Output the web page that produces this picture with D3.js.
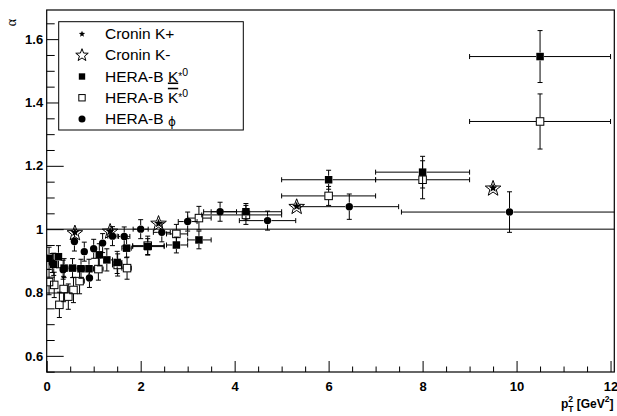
<!DOCTYPE html>
<html><head><meta charset="utf-8">
<script src="https://cdn.jsdelivr.net/npm/d3@7"></script>
<style>
html,body{margin:0;padding:0;background:#fff;}
svg{display:block;font-family:"Liberation Sans",Arial,Helvetica,sans-serif;}
</style></head><body>
<svg id="chart" width="617" height="416"></svg>
<script>
// ---- Cronin K+ / K- (star markers, no error bars) ----
const croninKplusX = [0.60, 1.35, 2.38, 5.32, 9.50];
const croninKplusA = [0.990, 0.993, 1.018, 1.072, 1.130];
const croninKminusX = [0.60, 1.35, 2.38, 5.32, 9.50];
const croninKminusA = [0.987, 0.992, 1.017, 1.070, 1.128];

// ---- HERA-B K*0 : bin centre, bin edges, alpha, alpha error ----
const kstarX  = [0.05, 0.15, 0.25, 0.37, 0.55, 0.73, 0.90, 1.12, 1.28, 1.50, 1.70, 2.15, 2.76, 3.24, 4.24, 6.00, 8.00, 10.50];
const kstarLo = [0.00, 0.10, 0.20, 0.30, 0.45, 0.65, 0.80, 1.05, 1.20, 1.40, 1.60, 1.83, 2.55, 3.00, 3.50, 5.00, 7.00, 9.00];
const kstarHi = [0.10, 0.20, 0.30, 0.45, 0.65, 0.80, 1.00, 1.20, 1.40, 1.60, 1.80, 2.50, 3.00, 3.50, 5.00, 7.00, 9.00, 12.00];
const kstarA  = [0.908, 0.889, 0.913, 0.877, 0.877, 0.875, 0.875, 0.919, 0.903, 0.895, 0.940, 0.945, 0.950, 0.966, 1.055, 1.156, 1.180, 1.545];
const kstarE  = [0.035, 0.035, 0.035, 0.030, 0.030, 0.030, 0.030, 0.035, 0.035, 0.035, 0.030, 0.025, 0.025, 0.028, 0.026, 0.030, 0.050, 0.082];

// ---- HERA-B anti-K*0 ----
const akstarX  = [0.05, 0.16, 0.27, 0.36, 0.46, 0.57, 0.70, 1.10, 1.51, 1.71, 2.15, 2.76, 3.24, 4.24, 6.00, 8.00, 10.50];
const akstarLo = [0.00, 0.10, 0.20, 0.30, 0.40, 0.50, 0.65, 1.00, 1.40, 1.60, 1.83, 2.55, 3.00, 3.30, 5.00, 7.00, 9.00];
const akstarHi = [0.10, 0.20, 0.30, 0.40, 0.50, 0.65, 0.80, 1.20, 1.60, 1.80, 2.50, 3.00, 3.50, 5.00, 7.00, 9.00, 12.00];
const akstarA  = [0.833, 0.824, 0.761, 0.811, 0.787, 0.808, 0.836, 0.874, 0.887, 0.877, 0.948, 0.985, 1.035, 1.045, 1.105, 1.156, 1.340];
const akstarE  = [0.040, 0.040, 0.040, 0.040, 0.040, 0.040, 0.040, 0.035, 0.035, 0.035, 0.030, 0.030, 0.037, 0.030, 0.030, 0.060, 0.087];

// ---- HERA-B phi ----
const phiX  = [0.12, 0.35, 0.59, 0.80, 0.91, 1.00, 1.19, 1.40, 1.65, 2.00, 2.45, 3.00, 3.69, 4.70, 6.44, 9.85];
const phiEx = [0.05, 0.05, 0.05, 0.05, 0.05, 0.05, 0.07, 0.10, 0.12, 0.16, 0.18, 0.20, 0.35, 0.60, 1.05, 2.30];
const phiA  = [0.893, 0.872, 0.961, 0.929, 0.846, 0.938, 0.956, 0.978, 0.977, 1.000, 0.990, 1.024, 1.055, 1.027, 1.071, 1.054];
const phiE  = [0.030, 0.030, 0.030, 0.030, 0.030, 0.030, 0.030, 0.030, 0.030, 0.030, 0.030, 0.030, 0.030, 0.030, 0.040, 0.064];

// ---- axis ticks ----
const xMajor = [0, 2, 4, 6, 8, 10, 12];
const yMajor = [0.6, 0.8, 1.0, 1.2, 1.4, 1.6];
const xDomain = [0, 12.08];
const yDomain = [0.549, 1.692];

const legendLabels = ["Cronin K+", "Cronin K-", "HERA-B ", "HERA-B ", "HERA-B "];

const svg = d3.select("#chart");
const plot = {left: 46.7, right: 614.3, top: 10, bottom: 372};
const x = d3.scaleLinear().domain(xDomain).range([plot.left, plot.right]);
const y = d3.scaleLinear().domain(yDomain).range([plot.bottom, plot.top]);

svg.append("rect").attr("width", 617).attr("height", 416).attr("fill", "#fff");

svg.append("clipPath").attr("id", "plotclip").append("rect")
  .attr("x", plot.left).attr("y", plot.top)
  .attr("width", plot.right - plot.left).attr("height", plot.bottom - plot.top);

// minor tick positions
const xMinor = d3.range(0.5, 12.01, 0.5).filter(v => !xMajor.some(m => Math.abs(m - v) < 1e-6));
const yMinor = d3.range(0.55, 1.69, 0.05).filter(v => !yMajor.some(m => Math.abs(m - v) < 1e-6));

const fontAxis = "'Liberation Sans', Arial, sans-serif";

// ---- y axis ----
const gy = svg.append("g").attr("transform", `translate(${plot.left},0)`)
  .call(d3.axisLeft(y).tickValues(yMajor).tickSizeInner(-17).tickSizeOuter(0).tickPadding(3.5)
    .tickFormat(d => Math.abs(d - 1) < 1e-9 ? "1" : d3.format(".1f")(d)));
gy.attr("font-size", 13).attr("font-family", fontAxis).attr("font-weight", "bold");
gy.select(".domain").remove();
gy.selectAll("line").attr("stroke", "#000");
gy.selectAll("text").attr("fill", "#000");

const gym = svg.append("g").attr("transform", `translate(${plot.left},0)`)
  .call(d3.axisLeft(y).tickValues(yMinor).tickSizeInner(-8).tickSizeOuter(0).tickFormat(""));
gym.select(".domain").remove();
gym.selectAll("line").attr("stroke", "#000");

// ---- x axis ----
const gx = svg.append("g").attr("transform", `translate(0,${plot.bottom})`)
  .call(d3.axisBottom(x).tickValues(xMajor).tickSizeInner(-11).tickSizeOuter(0).tickPadding(9.5)
    .tickFormat(d3.format("d")));
gx.attr("font-size", 13).attr("font-family", fontAxis).attr("font-weight", "bold");
gx.select(".domain").remove();
gx.selectAll("line").attr("stroke", "#000");
gx.selectAll("text").attr("fill", "#000");

const gxm = svg.append("g").attr("transform", `translate(0,${plot.bottom})`)
  .call(d3.axisBottom(x).tickValues(xMinor).tickSizeInner(-5.5).tickSizeOuter(0).tickFormat(""));
gxm.select(".domain").remove();
gxm.selectAll("line").attr("stroke", "#000");

// ---- reference line alpha = 1 ----
svg.append("line")
  .attr("x1", x(xDomain[0])).attr("x2", x(xDomain[1]))
  .attr("y1", y(1)).attr("y2", y(1))
  .attr("stroke", "#000").attr("stroke-width", 1);

// ---- marker helpers ----
function starPath(R, r) {
  const pts = [];
  for (let k = 0; k < 10; k++) {
    const ang = -Math.PI / 2 + k * Math.PI / 5;
    const rad = k % 2 === 0 ? R : r;
    pts.push([rad * Math.cos(ang), rad * Math.sin(ang)]);
  }
  return "M" + pts.map(p => p[0].toFixed(2) + "," + p[1].toFixed(2)).join("L") + "Z";
}

function drawMarker(g, type, cx, cy, scale) {
  const s = scale || 1;
  if (type === "fsquare") {
    const a = 7.5 * s;
    g.append("rect").attr("x", cx - a / 2).attr("y", cy - a / 2).attr("width", a).attr("height", a).attr("fill", "#000");
  } else if (type === "osquare") {
    const a = 7.5 * s;
    g.append("rect").attr("x", cx - a / 2).attr("y", cy - a / 2).attr("width", a).attr("height", a)
      .attr("fill", "none").attr("stroke", "#000").attr("stroke-width", 1);
  } else if (type === "circle") {
    g.append("circle").attr("cx", cx).attr("cy", cy).attr("r", 3.7 * s).attr("fill", "#000");
  } else if (type === "fstar") {
    g.append("path").attr("d", starPath(4.6 * s, 2.0 * s)).attr("transform", `translate(${cx},${cy})`).attr("fill", "#000");
  } else if (type === "ostar") {
    g.append("path").attr("d", starPath(8.2 * s, 3.4 * s)).attr("transform", `translate(${cx},${cy})`)
      .attr("fill", "none").attr("stroke", "#000").attr("stroke-width", 1);
  }
}

const dataLayer = svg.append("g").attr("clip-path", "url(#plotclip)");

function drawSeries(xs, lo, hi, as, es, type) {
  const g = dataLayer.append("g");
  const half = 4, cap = 2.5;
  const eg = g.append("g").attr("stroke", "#000").attr("stroke-width", 1);
  xs.forEach((xv, i) => {
    const cx = x(xv), cy = y(as[i]);
    if (es) {
      const yt = y(as[i] + es[i]), yb = y(as[i] - es[i]);
      if (cy - yt > half) {
        eg.append("line").attr("x1", cx).attr("x2", cx).attr("y1", yt).attr("y2", cy - half);
        eg.append("line").attr("x1", cx - cap).attr("x2", cx + cap).attr("y1", yt).attr("y2", yt);
      }
      if (yb - cy > half) {
        eg.append("line").attr("x1", cx).attr("x2", cx).attr("y1", cy + half).attr("y2", yb);
        eg.append("line").attr("x1", cx - cap).attr("x2", cx + cap).attr("y1", yb).attr("y2", yb);
      }
    }
    if (lo && hi) {
      const xl = x(lo[i]), xr = x(hi[i]);
      if (cx - xl > half) {
        eg.append("line").attr("x1", xl).attr("x2", cx - half).attr("y1", cy).attr("y2", cy);
        eg.append("line").attr("x1", xl).attr("x2", xl).attr("y1", cy - cap).attr("y2", cy + cap);
      }
      if (xr - cx > half) {
        eg.append("line").attr("x1", cx + half).attr("x2", xr).attr("y1", cy).attr("y2", cy);
        eg.append("line").attr("x1", xr).attr("x2", xr).attr("y1", cy - cap).attr("y2", cy + cap);
      }
    }
  });
  xs.forEach((xv, i) => drawMarker(g, type, x(xv), y(as[i])));
}

drawSeries(akstarX, akstarLo, akstarHi, akstarA, akstarE, "osquare");
drawSeries(kstarX, kstarLo, kstarHi, kstarA, kstarE, "fsquare");
drawSeries(phiX, phiX.map((v, i) => v - phiEx[i]), phiX.map((v, i) => v + phiEx[i]), phiA, phiE, "circle");
drawSeries(croninKminusX, null, null, croninKminusA, null, "ostar");
drawSeries(croninKplusX, null, null, croninKplusA, null, "fstar");

// ---- frame ----
svg.append("rect")
  .attr("x", plot.left).attr("y", plot.top)
  .attr("width", plot.right - plot.left).attr("height", plot.bottom - plot.top)
  .attr("fill", "none").attr("stroke", "#000").attr("stroke-width", 1.2);

// ---- axis titles ----
svg.append("text")
  .attr("transform", "translate(16,19) rotate(-90)")
  .attr("text-anchor", "end")
  .attr("font-family", "'Liberation Serif', 'DejaVu Serif', serif")
  .attr("font-size", 14).attr("fill", "#000")
  .text("α");

const xt = svg.append("text")
  .attr("x", 613.5).attr("y", 408.3)
  .attr("text-anchor", "end").attr("fill", "#000")
  .attr("font-family", fontAxis).attr("font-weight", "bold").attr("font-size", 12);
xt.append("tspan").text("p");
xt.append("tspan").attr("font-size", 8.5).attr("dy", -6).text("2");
xt.append("tspan").attr("font-size", 8.5).attr("dx", -4.8).attr("dy", 10).text("T");
xt.append("tspan").attr("dy", -4).text(" [GeV");
xt.append("tspan").attr("font-size", 8.5).attr("dy", -6).text("2");
xt.append("tspan").attr("dy", 6).text("]");

// ---- legend ----
const leg = svg.append("g");
leg.append("rect").attr("x", 58.7).attr("y", 21.7).attr("width", 184.6).attr("height", 108.3)
  .attr("fill", "#fff").attr("stroke", "#000").attr("stroke-width", 1);
const legendTypes = ["fstar", "ostar", "fsquare", "osquare", "circle"];
const legendScale = [0.72, 0.8, 0.85, 0.85, 0.95];
const rowY = d3.scaleLinear().domain([0, 4]).range([34, 119]);
legendTypes.forEach((t, i) => drawMarker(leg, t, 82, rowY(i), legendScale[i]));

function legendText(i) {
  return leg.append("text").attr("x", 105).attr("y", rowY(i) + 5)
    .attr("font-family", fontAxis).attr("font-size", 15.5).attr("fill", "#000")
    .text(legendLabels[i]);
}
legendText(0);
legendText(1);
{
  const t = legendText(2);
  t.append("tspan").attr("fill", "#000").attr("text-decoration", "underline").text("K");
  t.append("tspan").attr("fill", "#000").attr("font-size", 10).attr("dy", -2).text("*");
  t.append("tspan").attr("fill", "#000").attr("font-size", 10.5).attr("dy", -4).text("0");
}
{
  const t = legendText(3);
  t.append("tspan").attr("fill", "#000").attr("text-decoration", "overline").text("K");
  t.append("tspan").attr("fill", "#000").attr("font-size", 10).attr("dy", -2).text("*");
  t.append("tspan").attr("fill", "#000").attr("font-size", 10.5).attr("dy", -4).text("0");
}
{
  const t = legendText(4);
  t.append("tspan").attr("fill", "#000").attr("font-family", "'DejaVu Sans', sans-serif")
    .attr("font-size", 12).attr("dy", 1.5).text("ϕ");
}
</script>
</body></html>
